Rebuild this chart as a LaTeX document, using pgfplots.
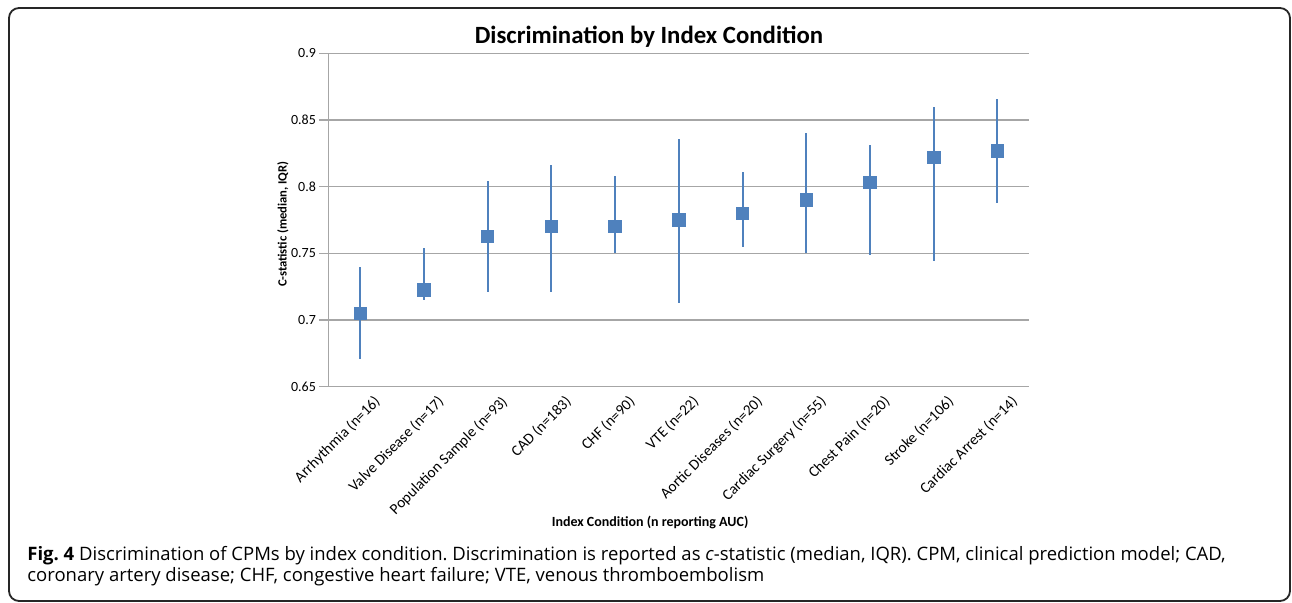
\documentclass[border=0pt]{standalone}
\usepackage{fontspec}
\setmainfont{Carlito}
\newfontfamily\capfont{Open Sans}
\usepackage{pgfplots}
\usepackage{pgfplotstable}
\pgfplotsset{compat=1.18}
\definecolor{exblue}{HTML}{4F81BD}
\definecolor{gridgray}{HTML}{A6A6A6}
\frenchspacing

\pgfplotstableread{
x med hi lo
0 0.705 0.740 0.671
1 0.7225 0.754 0.715
2 0.7625 0.804 0.721
3 0.770 0.816 0.721
4 0.770 0.808 0.750
5 0.775 0.836 0.713
6 0.780 0.811 0.755
7 0.790 0.840 0.750
8 0.803 0.8315 0.7487
9 0.822 0.860 0.7445
10 0.8267 0.8657 0.788
}\cstat

\begin{document}
\begin{tikzpicture}
\path[use as bounding box] (0,0) rectangle (646pt,-301.5pt);
\draw[rounded corners=5pt, line width=0.9pt, black!85] (4.5pt,-4pt) rectangle (645pt,-300.5pt);
\begin{axis}[
  at={(164.15pt,-193.35pt)}, anchor=south west,
  scale only axis, width=350.5pt, height=166.7pt,
  xmin=-0.5, xmax=10.5, ymin=0.65, ymax=0.9,
  axis x line=bottom, axis y line=left,
  axis line style={-, gridgray, line width=0.7pt},
  ytick={0.65,0.7,0.75,0.8,0.85,0.9},
  yticklabels={0.65,0.7,0.75,0.8,0.85,0.9},
  ymajorgrids, grid style={gridgray, line width=0.7pt},
  xtick={0,...,10},
  minor xtick={-0.5,0.5,...,10.5},
  xticklabels={Arrhythmia (n=16),Valve Disease (n=17),Population Sample (n=93),CAD (n=183),CHF (n=90),VTE (n=22),Aortic Diseases (n=20),Cardiac Surgery (n=55),Chest Pain (n=20),Stroke (n=106),Cardiac Arrest (n=14)},
  tick align=outside,
  major tick length=4.5pt, minor tick length=2.5pt,
  xtick style={draw=none},
  minor x tick style={gridgray, line width=0.7pt},
  ytick style={gridgray, line width=0.7pt},
  xticklabel style={rotate=45, anchor=north east, inner sep=0pt, font=\fontsize{7.6}{8}\selectfont, xshift=5pt, yshift=-4pt},
  yticklabel style={font=\fontsize{7}{8}\selectfont, inner sep=0pt, xshift=-1.5pt},
  title={Discrimination by Index Condition},
  title style={at={(axis description cs:0.4575,1.015)}, anchor=center, font=\bfseries\fontsize{12.4}{14}\selectfont},
  xlabel={Index Condition (n reporting AUC)},
  xlabel style={at={(axis description cs:0.459,-0.406)}, anchor=center, font=\bfseries\fontsize{7}{8}\selectfont},
  ylabel={C-statistic (median, IQR)},
  ylabel style={at={(axis description cs:-0.0646,0.488)}, anchor=center, rotate=0, font=\bfseries\fontsize{6.3}{7}\selectfont},
  clip=false,
]
\addplot[only marks, mark=square*, mark size=3.1pt, mark options={fill=exblue, draw=exblue},
  error bars/.cd, y dir=both, y explicit, error mark=none,
  error bar style={exblue, line width=1pt}]
  table[x=x, y=med, y error plus expr=\thisrow{hi}-\thisrow{med}, y error minus expr=\thisrow{med}-\thisrow{lo}] {\cstat};
\end{axis}
\node[anchor=base west, inner sep=0pt, font=\capfont\fontsize{9.25}{11}\selectfont] at (13.5pt,-280.3pt)
  {\textbf{Fig. 4} Discrimination of CPMs by index condition. Discrimination is reported as \textit{c}-statistic (median, IQR). CPM, clinical prediction model; CAD,};
\node[anchor=base west, inner sep=0pt, font=\capfont\fontsize{9.25}{11}\selectfont] at (13.5pt,-291pt)
  {coronary artery disease; CHF, congestive heart failure; VTE, venous thromboembolism};
\end{tikzpicture}
\end{document}
